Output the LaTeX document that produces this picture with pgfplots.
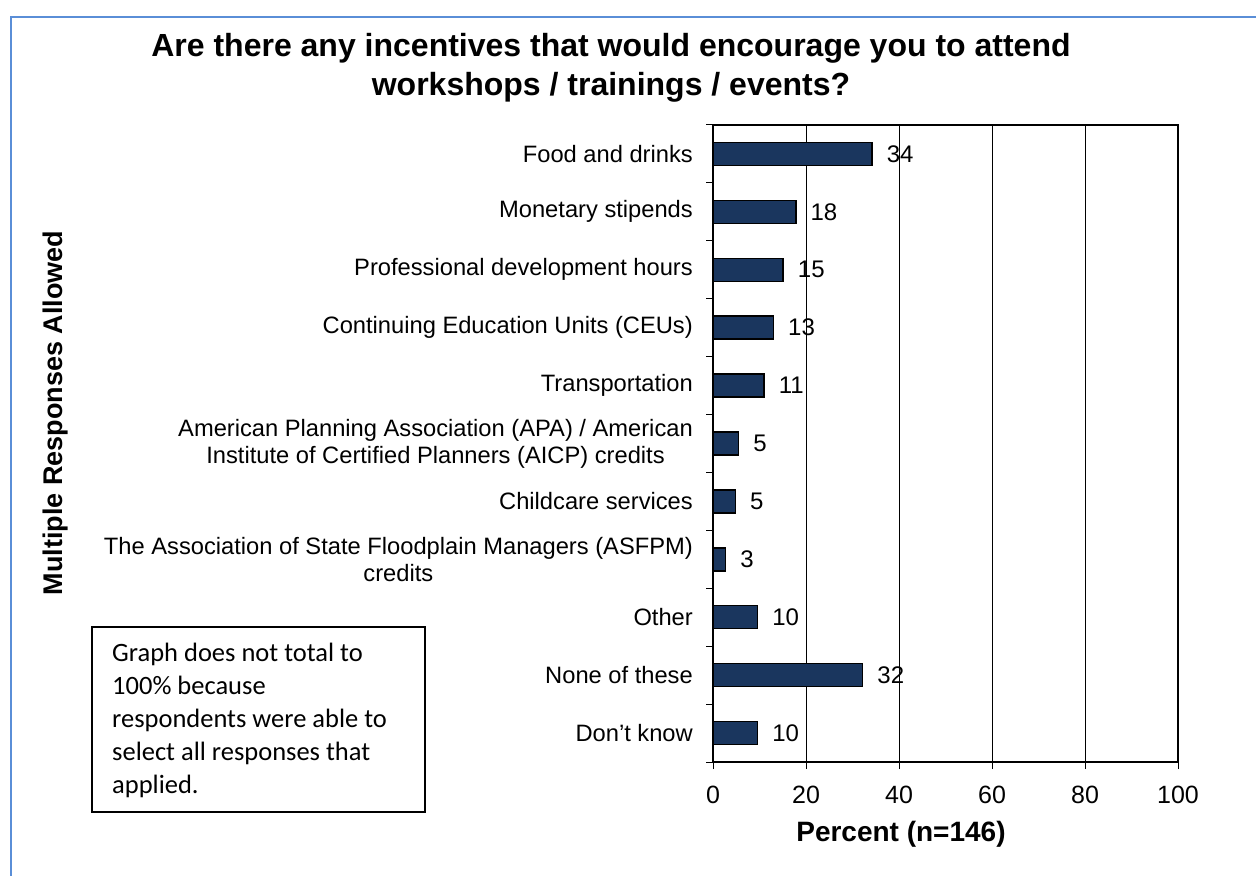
\documentclass[border=0pt]{standalone}
\usepackage{fontspec}
\setmainfont{Liberation Sans}
\newfontfamily\calibri{Carlito}
\usepackage{pgfplots}
\pgfplotsset{compat=1.18}
\usepackage{pgfplotstable}
\definecolor{navy}{RGB}{26,54,94}
\definecolor{frameblue}{RGB}{90,142,215}

\pgfplotstableread{
y x lab
1 34.2 34
2 17.8 18
3 15.1 15
4 13.0 13
5 11.0 11
6 5.5 5
7 4.8 5
8 2.7 3
9 9.6 10
10 32.2 32
11 9.6 10
}\datatab

\begin{document}
\begin{tikzpicture}[x=1bp,y=1bp]
\useasboundingbox (0,0) rectangle (1256,876);
% frame
\draw[frameblue, line width=2bp] (11,0) -- (11,859) -- (1256,859);
% title (base = last line baseline)
\node[align=center, font=\fontsize{32bp}{39bp}\selectfont\bfseries, anchor=base] at (611,780)
  {Are there any incentives that would encourage you to attend\\workshops / trainings / events?};
\begin{axis}[
  at={(713bp,114bp)}, anchor=south west,
  width=465bp, height=637bp, scale only axis,
  xbar, bar width=23bp,
  xmin=0, xmax=100, ymin=0.5, ymax=11.5, y dir=reverse,
  xtick={0,20,...,100},
  minor xtick={0,20,...,100},
  ytick={1,...,11},
  yticklabels={Food and drinks,Monetary stipends,Professional development hours,Continuing Education Units (CEUs),Transportation,{American Planning Association (APA) / American\\Institute of Certified Planners (AICP) credits},Childcare services,{The Association of State Floodplain Managers (ASFPM)\\credits},Other,None of these,Don’t know},
  minor ytick={0.5,1.5,...,11.5},
  xtick pos=lower, ytick pos=left,
  tick align=outside,
  major tick length=0pt,
  minor tick length=7bp,
  tick style={black, line width=1bp},
  xmajorgrids, grid style={black, line width=0.8bp},
  axis line style={black, line width=2bp},
  /pgf/number format/assume math mode=true,
  xticklabel style={font=\fontsize{25bp}{30bp}\selectfont, inner sep=0pt, yshift=-24bp},
  yticklabel style={font=\fontsize{23.7bp}{27bp}\selectfont, align=center, inner sep=0pt, xshift=-20bp},
  nodes near coords,
  point meta=explicit symbolic,
  every node near coord/.append style={font=\fontsize{24bp}{28bp}\selectfont, black, anchor=west, inner sep=0pt, xshift=14bp},
]
\addplot[fill=navy, draw=black, line width=1.5bp] table[x=x, y=y, meta=lab] {\datatab};
\end{axis}
% axis labels
\node[font=\fontsize{28bp}{33bp}\selectfont\bfseries, anchor=base] at (901,34) {Percent (n=146)};
\node[font=\fontsize{27bp}{32bp}\selectfont\bfseries, anchor=base, rotate=90] at (62,463) {Multiple Responses Allowed};
% note box
\draw[black, line width=2bp] (92,64) rectangle (425,249);
\node[anchor=base west, align=left, inner sep=0pt, font=\calibri\fontsize{26.5bp}{33bp}\selectfont] at (112,82)
  {Graph does not total to\\100\% because\\respondents were able to\\select all responses that\\applied.};
\end{tikzpicture}
\end{document}
